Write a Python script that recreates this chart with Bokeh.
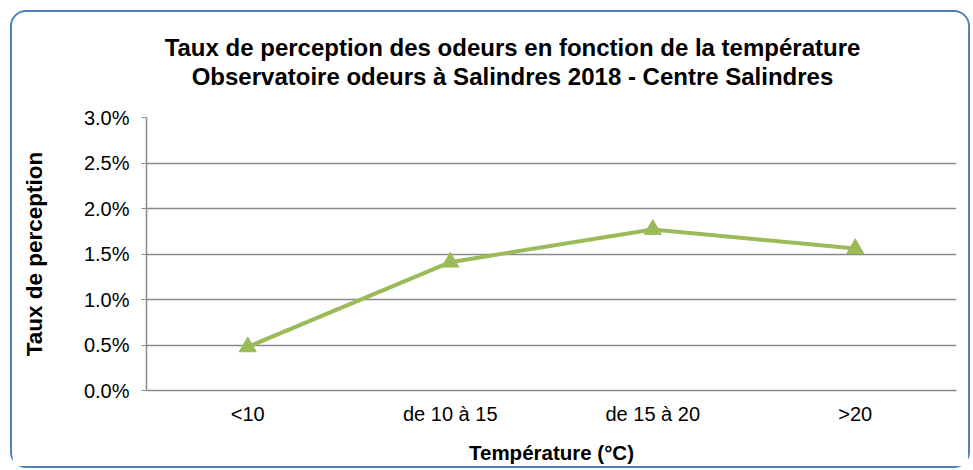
from bokeh.plotting import figure
from bokeh.models import FactorRange, Range1d, NumeralTickFormatter, FixedTicker, Div
from bokeh.layouts import column
from bokeh.embed import file_html
from bokeh.resources import INLINE

categories = ["<10", "de 10 à 15", "de 15 à 20", ">20"]
taux = [0.0048, 0.0141, 0.0177, 0.0156]
y_ticks = [0.0, 0.005, 0.010, 0.015, 0.020, 0.025, 0.030]
title_lines = ["Taux de perception des odeurs en fonction de la température",
               "Observatoire odeurs à Salindres 2018 - Centre Salindres"]

FONT = "Liberation Sans"
GREEN = "#9BBB59"
GRID = "#8A8A8A"

inner_style = ("font-family:'Liberation Sans',Arial,sans-serif;font-size:24px;font-weight:bold;"
               "line-height:29px;text-align:center;color:#000000;padding-top:21px;"
               "padding-left:45px;box-sizing:border-box;width:956px;margin:0")
title_div = Div(
    text='<div style="%s">%s</div>' % (inner_style, "<br>".join(title_lines)),
    width=956, height=92, margin=0,
)

p = figure(
    width=956, height=362,
    x_range=FactorRange(*categories, range_padding=0),
    y_range=Range1d(0, 0.03),
    output_backend="svg", toolbar_location=None,
    min_border_left=134, min_border_right=12, min_border_top=13, min_border_bottom=74,
)
p.margin = 0
p.title = None

p.line(x=categories, y=taux, line_color=GREEN, line_width=4)
p.scatter(x=categories, y=taux, marker="triangle", size=17,
          fill_color=GREEN, line_color=GREEN)

# grid
p.xgrid.grid_line_color = None
p.ygrid.grid_line_color = GRID
p.ygrid.grid_line_width = 1.5
p.outline_line_color = None

# y axis
p.yaxis.ticker = FixedTicker(ticks=y_ticks)
p.yaxis.formatter = NumeralTickFormatter(format="0.0%")
p.yaxis.axis_line_color = GRID
p.yaxis.axis_line_width = 1.5
p.yaxis.major_tick_line_color = GRID
p.yaxis.major_tick_out = 5
p.yaxis.major_tick_in = 0
p.yaxis.minor_tick_line_color = None
p.yaxis.major_label_standoff = 12
p.yaxis.major_label_text_font = FONT
p.yaxis.major_label_text_font_size = "20px"
p.yaxis.major_label_text_color = "#000000"
p.yaxis.axis_label = "Taux de perception"
p.yaxis.axis_label_text_font = FONT
p.yaxis.axis_label_text_font_size = "22.5px"
p.yaxis.axis_label_text_font_style = "bold"
p.yaxis.axis_label_text_color = "#000000"
p.yaxis.axis_label_standoff = 34

# x axis
p.xaxis.axis_line_color = GRID
p.xaxis.axis_line_width = 1.5
p.xaxis.major_tick_line_color = None
p.xaxis.major_tick_out = 0
p.xaxis.major_tick_in = 0
p.xaxis.minor_tick_line_color = None
p.xaxis.major_label_standoff = 12
p.xaxis.major_label_text_font = FONT
p.xaxis.major_label_text_font_size = "20px"
p.xaxis.major_label_text_color = "#000000"
p.xaxis.axis_label = "Température (°C)"
p.xaxis.axis_label_text_font = FONT
p.xaxis.axis_label_text_font_size = "20.5px"
p.xaxis.axis_label_text_font_style = "bold"
p.xaxis.axis_label_text_color = "#000000"
p.xaxis.axis_label_standoff = 13

layout = column(title_div, p, spacing=0)
layout.styles = {"border": "2px solid #4F81BD", "border-radius": "16px",
                 "margin-left": "10px", "margin-top": "10px", "background-color": "#ffffff"}

open("out.html", "w").write(file_html(layout, INLINE))
